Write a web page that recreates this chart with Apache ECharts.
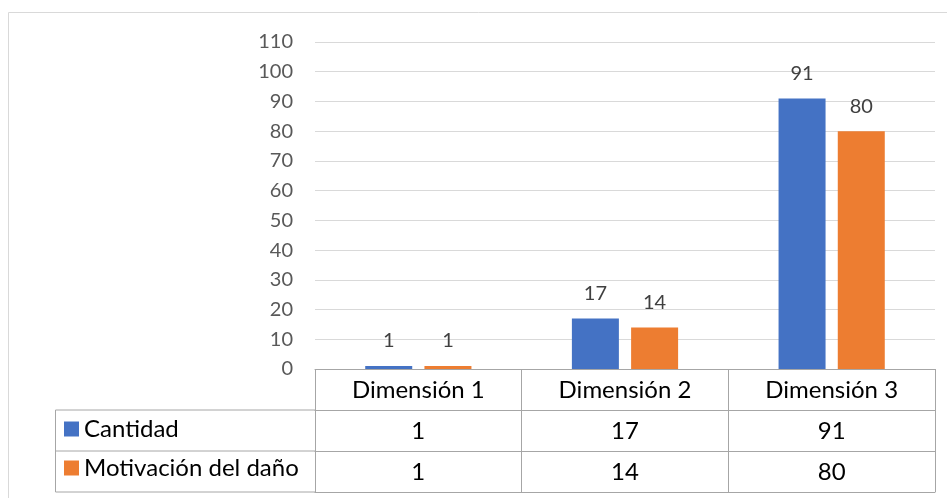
<!DOCTYPE html>
<html><head><meta charset="utf-8">
<script src="https://cdn.jsdelivr.net/npm/echarts@6/dist/echarts.min.js"></script>
<style>html,body{margin:0;padding:0;background:#fff}#c{width:947px;height:498px}</style>
</head><body><div id="c"></div>
<script>
const categories = ['Dimensión 1', 'Dimensión 2', 'Dimensión 3'];
const seriesNames = ['Cantidad', 'Motivación del daño'];
const cantidad = [1, 17, 91];
const motivacion = [1, 14, 80];
const yTicks = {min: 0, max: 110, interval: 10};

const FONT = 'Lato';
const TFS = 24;
const GL = 315, GR = 12, GT = 42, GB = 129;
const ROW = 41;
const lineCol = '#a6a6a6';
const chart = echarts.init(document.getElementById('c'));

function valAxis(off, vals, showLabel) {
  return {
    type: 'category', data: categories, position: 'bottom', offset: off,
    axisLine: {show: true, lineStyle: {color: lineCol, width: 1}},
    axisTick: {show: false},
    axisLabel: {show: showLabel, margin: 9, fontSize: TFS, color: '#000', fontFamily: FONT,
      formatter: (v, i) => vals ? String(vals[i]) : v},
    splitLine: {show: false}
  };
}
const xAxes = [
  {type: 'category', data: categories, position: 'bottom', offset: 0,
   axisLine: {show: true, lineStyle: {color: lineCol}},
   axisTick: {show: true, length: ROW * 3, lineStyle: {color: lineCol}},
   axisLabel: {margin: 9, fontSize: TFS, color: '#000', fontFamily: FONT}},
  valAxis(ROW, cantidad, true),
  valAxis(ROW * 2, motivacion, true),
  valAxis(ROW * 3, null, false)
];

const H = 498;
const baseY = H - GB;
const ln = (x1, y1, x2, y2) => ({type: 'line', shape: {x1, y1, x2, y2}, style: {stroke: lineCol, lineWidth: 1}});
const graphics = [
  {type: 'rect', shape: {x: 8.5, y: 12.5, width: 1000, height: 1000}, style: {fill: 'none', stroke: '#d9d9d9', lineWidth: 1}, z: -1},
  ln(55.5, baseY + ROW, GL, baseY + ROW),
  ln(55.5, baseY + ROW * 2, GL, baseY + ROW * 2),
  ln(55.5, baseY + ROW * 3, GL, baseY + ROW * 3),
  ln(55.5, baseY + ROW, 55.5, baseY + ROW * 3)
];

chart.setOption({
  animation: false,
  textStyle: {fontFamily: FONT},
  grid: {left: GL, right: GR, top: GT, bottom: GB},
  legend: {
    orient: 'vertical', left: 59, top: baseY + ROW + 2, itemGap: 15,
    icon: 'rect', itemWidth: 15, itemHeight: 15,
    textStyle: {fontSize: TFS, color: '#000', fontFamily: FONT},
    data: seriesNames, selectedMode: false
  },
  xAxis: xAxes,
  yAxis: {
    type: 'value', min: yTicks.min, max: yTicks.max, interval: yTicks.interval,
    axisLine: {show: false}, axisTick: {show: false},
    axisLabel: {margin: 22, fontSize: 20, color: '#595959', fontFamily: FONT},
    splitLine: {lineStyle: {color: '#d9d9d9', width: 1}}
  },
  graphic: graphics,
  series: [
    {name: seriesNames[0], type: 'bar', data: cantidad, barWidth: 47, barGap: '26%',
     itemStyle: {color: '#4472C4'},
     label: {show: true, position: 'top', distance: 15, fontSize: 20, color: '#404040', fontFamily: FONT}},
    {name: seriesNames[1], type: 'bar', data: motivacion, barWidth: 47, barGap: '26%',
     itemStyle: {color: '#ED7D31'},
     label: {show: true, position: 'top', distance: 15, fontSize: 20, color: '#404040', fontFamily: FONT}}
  ]
});
</script></body></html>
